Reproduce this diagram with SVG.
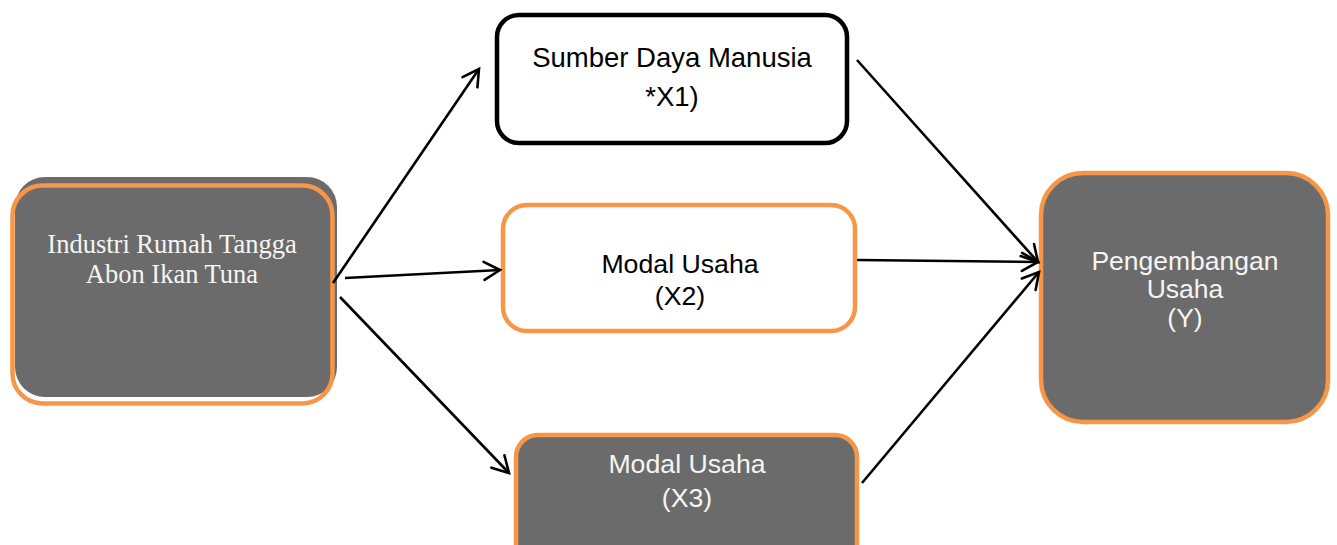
<svg xmlns="http://www.w3.org/2000/svg" width="1337" height="545" viewBox="0 0 1337 545">
<style>
.orange{stroke:#f79646;stroke-width:4.5}
.grey{fill:#6b6b6b}
.sans{font-family:"Liberation Sans",Arial,sans-serif;text-anchor:middle}
.serif{font-family:"Liberation Serif","Times New Roman",serif;text-anchor:middle}
.w{fill:#f5f5f5}
.k{fill:#000}
.conn line{stroke:#000;stroke-width:2.6;fill:none;marker-end:url(#arr)}
</style>
<defs>
<marker id="arr" markerUnits="userSpaceOnUse" markerWidth="24" markerHeight="24" viewBox="-18 -12 24 24" refX="0" refY="0" orient="auto">
<path d="M-16,-9 L0,0 L-16,9" fill="none" stroke="#000" stroke-width="2.6" stroke-linecap="round"/>
</marker>
</defs>
<rect width="1337" height="545" fill="#fff"/>
<g id="node-industri">
<rect x="15" y="177" width="322" height="220" rx="30" class="grey"/>
<rect x="12.5" y="185.5" width="320" height="218" rx="30" fill="none" class="orange"/>
<text class="serif w" x="172" y="253" font-size="26.5">Industri Rumah Tangga</text>
<text class="serif w" x="172" y="283" font-size="26.5">Abon Ikan Tuna</text>
</g>
<g id="node-x1">
<rect x="497" y="15" width="350" height="128" rx="22" fill="#fff" stroke="#000" stroke-width="4.5"/>
<text class="sans k" x="672" y="67" font-size="27.5">Sumber Daya Manusia</text>
<text class="sans k" x="672" y="106" font-size="27.5">*X1)</text>
</g>
<g id="node-x2">
<rect x="503" y="205" width="352" height="126" rx="24" fill="#fff" class="orange"/>
<text class="sans k" x="680" y="273" font-size="26.7">Modal Usaha</text>
<text class="sans k" x="680" y="305" font-size="26.7">(X2)</text>
</g>
<g id="node-x3">
<rect x="516" y="435" width="341" height="130" rx="22" class="grey orange"/>
<text class="sans w" x="687" y="473" font-size="26.7">Modal Usaha</text>
<text class="sans w" x="687" y="507" font-size="26.7">(X3)</text>
</g>
<g id="node-y">
<rect x="1041" y="173" width="287" height="249" rx="42" class="grey orange"/>
<text class="sans w" x="1185" y="270" font-size="26.5">Pengembangan</text>
<text class="sans w" x="1185" y="298" font-size="26.5">Usaha</text>
<text class="sans w" x="1185" y="327" font-size="26.5">(Y)</text>
</g>
<g id="connectors" class="conn">
<line x1="333" y1="283" x2="479" y2="69"/>
<line x1="345" y1="278" x2="500" y2="270"/>
<line x1="340" y1="297" x2="509" y2="473"/>
<line x1="857" y1="60" x2="1038" y2="262"/>
<line x1="857" y1="260" x2="1038" y2="262"/>
<line x1="862" y1="483" x2="1039" y2="272"/>
</g>
</svg>
